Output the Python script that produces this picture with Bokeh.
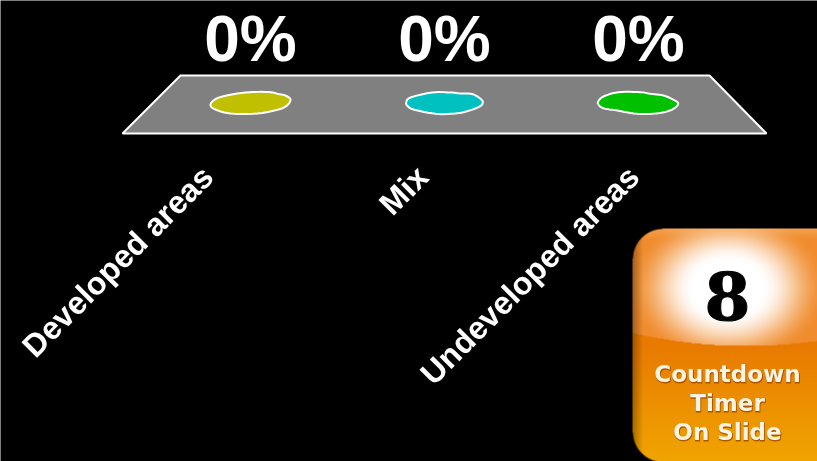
import numpy as np
from bokeh.plotting import figure
from bokeh.models import Range1d, ColumnDataSource
from bokeh.core.properties import value
from bokeh.embed import file_html
from bokeh.resources import INLINE

categories = ["Developed areas", "Mix", "Undeveloped areas"]
percent_values = [0, 0, 0]
bar_colors = ["#c0c000", "#00c0c0", "#00c000"]
badge_number = "8"
badge_lines = ["Countdown", "Timer", "On Slide"]

W, H = 817, 461
X0, STEP, Y0 = 250.0, 194.0, 104.0


def dx(px):
    return (np.asarray(px, dtype=float) - X0) / STEP


def dy(py):
    return Y0 - np.asarray(py, dtype=float)


def smooth(ox, oy, n=6):
    """Rounded closed outline through the given outline points (Catmull-Rom)."""
    pts = np.column_stack([ox, oy]).astype(float)
    out = []
    m = len(pts)
    for k in range(m):
        a, b, c, e = pts[k - 1], pts[k], pts[(k + 1) % m], pts[(k + 2) % m]
        for t in np.linspace(0, 1, n, endpoint=False):
            out.append(0.5 * (2 * b + (c - a) * t + (2 * a - 5 * b + 4 * c - e) * t ** 2
                              + (3 * b - a - 3 * c + e) * t ** 3))
    out = np.array(out)
    return out[:, 0], out[:, 1]


p = figure(width=W, height=H, output_backend="svg", toolbar_location=None,
           x_range=Range1d(float(dx(0)), float(dx(W))),
           y_range=Range1d(float(dy(H)), float(dy(0))),
           background_fill_color="#000000", border_fill_color="#000000",
           min_border=0, outline_line_color=None)
p.axis.visible = False
p.grid.visible = False
p.styles = {"position": "fixed", "left": "0", "top": "0"}

# floor of the 3D chart
floor_x = [180, 709, 766, 122]
floor_y = [75, 75, 133, 133]
p.patch(dx(floor_x), dy(floor_y), fill_color="#808080", line_color="#ffffff", line_width=2)

# outlines of the flat (zero height) columns, relative to each category's centre, in pixels
outlines = [
    ([-40, -37, -28, -5, 18, 28, 36, 40, 32, 7, -20, -35],
     [1, -4, -8, -12, -12.5, -10.5, -8.5, -4, 3.7, 9, 9, 5]),
    ([-38.3, -34, -12.3, 6, 16, 27.7, 36, 38.3, 34, 19, 6, -9, -31, -37.3],
     [-2, -7, -12, -12, -11, -10.5, -5.7, -1.7, 2.7, 7.7, 9.3, 9.3, 5, 1]),
    ([-40.3, -35, -20, 2, 12, 25, 35, 39.7, 33.7, 20, -1.3, -21.3, -35, -40],
     [-3, -8, -12.3, -12.3, -10.7, -9, -4.7, -0.7, 5, 8.7, 9.3, 6, 3.8, 0]),
]
xs, ys = [], []
for i, (ox, oy) in enumerate(outlines):
    sx, sy = smooth(ox, oy)
    xs.append(list(i + sx / STEP))
    ys.append(list(percent_values[i] - sy))
p.patches(xs, ys, fill_color=bar_colors, line_color="#ffffff", line_width=2)

idx = list(range(len(categories)))
label_shift = [-43, -22, -5]
src = ColumnDataSource(dict(x=idx, y=percent_values, cat=categories, shift=label_shift,
                            lab=[f"{v}%" for v in percent_values]))
p.text("x", "y", text="lab", source=src, text_color="#ffffff", text_align="center",
       text_baseline="middle", text_font=value("Liberation Sans"), text_font_style="bold",
       text_font_size="64px", y_offset=-66)
p.text("x", "y", text="cat", source=src, text_color="#ffffff", text_align="right",
       text_baseline="middle", text_font=value("Liberation Sans"), text_font_style="bold",
       text_font_size="32px", angle=np.pi / 4, x_offset="shift", y_offset=67)

# countdown badge
bx0, by0, bx1, by1 = 632, 228, 817, 461
yy, xx = np.mgrid[by0:by1, bx0:bx1].astype(float)
boundary = 345 - 13 * ((xx - 745) / 113) ** 2
upper = yy < boundary


def lerp(a, b, t):
    t = t[..., None]
    return np.array(a, dtype=float) * (1 - t) + np.array(b, dtype=float) * t


d = np.sqrt(((xx - 727) / 100) ** 2 + ((yy - 287) / 78) ** 2)
g = np.clip((1 - d) * 1.5, 0, 1)
glow = g * g * (3 - 2 * g)
up = lerp((240, 140, 45), (255, 255, 255), glow)
band = np.clip((238 - yy) / 10, 0, 1) * 0.35
up = up * (1 - band[..., None]) + np.array([250, 200, 140]) * band[..., None]
low = lerp((232, 122, 0), (240, 165, 0), np.clip((yy - 345) / 116, 0, 1))
rgb = np.where(upper[..., None], up, low)
edge = np.clip((xx - bx0) / 10, 0, 1) * 0.3 + 0.7
rgb = rgb * edge[..., None]

r = 30.0
alpha = np.ones_like(xx)
for cy, cond in ((by0 + r, yy < by0 + r), (by1 - r, yy > by1 - r)):
    dist = np.sqrt((xx - (bx0 + r)) ** 2 + (yy - cy) ** 2)
    mask = (xx < bx0 + r) & cond
    alpha[mask] = np.clip(r - dist[mask] + 0.5, 0, 1)

rgba = np.dstack([rgb, alpha * 255]).round().astype(np.uint8)[::-1]
img = rgba.copy().view(np.uint32).reshape(rgba.shape[:2])
p.image_rgba(image=[img], x=[float(dx(bx0))], y=[float(dy(by1))],
             dw=[(bx1 - bx0) / STEP], dh=[by1 - by0])

p.text([float(dx(727))], [float(dy(295))], text=[badge_number], text_color="#000000",
       text_outline_color="#000000",
       text_align="center", text_baseline="middle", text_font=value("DejaVu Serif"),
       text_font_style="bold", text_font_size="66px")
for line, py in zip(badge_lines, (373, 402, 431)):
    p.text([float(dx(727.5))], [float(dy(py + 1))], text=[line], text_color="#9a4a00", text_alpha=0.7,
           text_outline_color="#9a4a00",
           text_align="center", text_baseline="middle", text_font=value("DejaVu Sans"),
           text_font_style="bold", text_font_size="23px")
    p.text([float(dx(727))], [float(dy(py))], text=[line], text_color="#fff4e4",
           text_align="center", text_baseline="middle", text_font=value("DejaVu Sans"),
           text_font_style="bold", text_font_size="23px")

open("out.html", "w").write(file_html(p, INLINE))
